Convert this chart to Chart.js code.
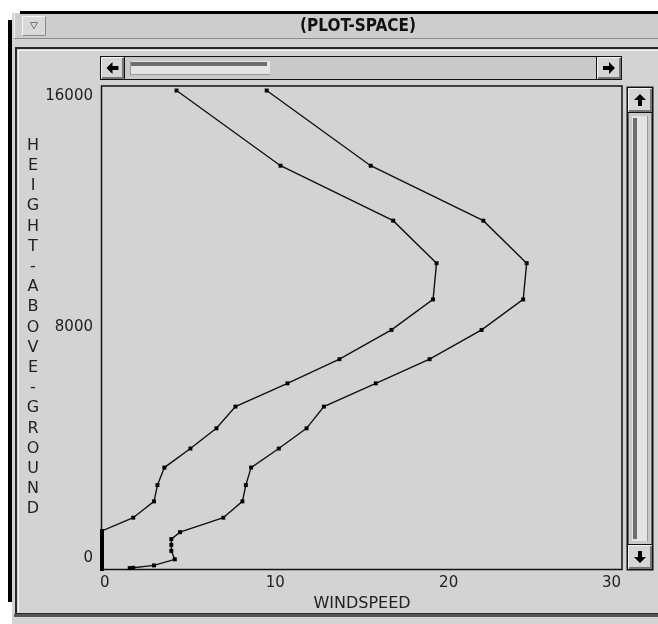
<!DOCTYPE html>
<html>
<head>
<meta charset="utf-8">
<script src="https://cdn.jsdelivr.net/npm/chart.js@4/dist/chart.umd.min.js"></script>
<style>
  html, body { margin: 0; padding: 0; background: #ffffff; overflow: hidden; }
  #wrap { width: 658px; height: 624px; }
</style>
</head>
<body>
<div id="wrap"><canvas id="c" width="658" height="624"></canvas></div>
<script>
// Wind profiles: height above ground (ft) vs wind speed.
const innerHeights = [15850, 13360, 11540, 10130, 8930, 7920, 6950, 6150, 5380, 4660, 3990, 3360, 2780, 2240, 1700, 1260,
                      1180, 1100, 1020, 940, 860, 780, 700, 620, 540, 460, 380, 300, 220, 140, 60, 0];
const innerSpeeds  = [4.3, 10.3, 16.8, 19.3, 19.1, 16.7, 13.7, 10.7, 7.7, 6.6, 5.1, 3.6, 3.2, 3.0, 1.8, 0.0,
                      0.0, 0.0, 0.0, 0.0, 0.0, 0.0, 0.0, 0.0, 0.0, 0.0, 0.0, 0.0, 0.0, 0.0, 0.0, 0.0];

const outerHeights = [15850, 13360, 11540, 10130, 8930, 7920, 6950, 6150, 5380, 4660, 3990, 3360, 2780, 2240, 1700, 1220, 990, 800, 600, 320, 120, 40, 30];
const outerSpeeds  = [9.5, 15.5, 22.0, 24.5, 24.3, 21.9, 18.9, 15.8, 12.8, 11.8, 10.2, 8.6, 8.3, 8.1, 7.0, 4.5, 4.0, 4.0, 4.0, 4.2, 3.0, 1.8, 1.6];

const xTickValues = [0, 10, 20, 30];
const yTickValues = [0, 8000, 16000];

const windowTitle = '(PLOT-SPACE)';
const xAxisTitle = 'WINDSPEED';
const yAxisTitle = 'HEIGHT-ABOVE-GROUND';

function toPoints(xs, ys) {
  return xs.map((x, i) => ({ x: x, y: ys[i] }));
}

const GRAY = '#d3d3d3';
const INK = '#111111';

// Bevelled button with an arrow glyph
function drawButton(ctx, x, y, w, h, dir) {
  ctx.fillStyle = '#d6d6d6';
  ctx.fillRect(x, y, w, h);
  ctx.strokeStyle = '#111';
  ctx.lineWidth = 1;
  ctx.strokeRect(x + 0.5, y + 0.5, w - 1, h - 1);
  ctx.strokeStyle = '#f4f4f4';
  ctx.beginPath();
  ctx.moveTo(x + 1.5, y + h - 2); ctx.lineTo(x + 1.5, y + 1.5); ctx.lineTo(x + w - 2, y + 1.5);
  ctx.stroke();
  ctx.strokeStyle = '#777';
  ctx.lineWidth = 2;
  ctx.beginPath();
  ctx.moveTo(x + 2, y + h - 2); ctx.lineTo(x + w - 2, y + h - 2); ctx.lineTo(x + w - 2, y + 2);
  ctx.stroke();

  const cx = x + w / 2, cy = y + h / 2;
  ctx.save();
  ctx.translate(cx, cy);
  const rot = { right: 0, down: Math.PI / 2, left: Math.PI, up: -Math.PI / 2 }[dir];
  ctx.rotate(rot);
  ctx.fillStyle = '#000';
  ctx.beginPath();
  ctx.moveTo(6, 0);
  ctx.lineTo(0, -6);
  ctx.lineTo(0, -2);
  ctx.lineTo(-6, -2);
  ctx.lineTo(-6, 2);
  ctx.lineTo(0, 2);
  ctx.lineTo(0, 6);
  ctx.closePath();
  ctx.fill();
  ctx.restore();
}

const windowChrome = {
  id: 'windowChrome',
  beforeDraw(chart) {
    const ctx = chart.ctx;
    const W = chart.width, H = chart.height;
    const area = chart.chartArea;
    ctx.save();
    ctx.fillStyle = '#ffffff';
    ctx.fillRect(0, 0, W, H);
    // window body
    ctx.fillStyle = GRAY;
    ctx.fillRect(12, 13, W - 12, H - 13);
    // black top and left edges
    ctx.fillStyle = '#000';
    ctx.fillRect(20, 11, W - 20, 3);
    ctx.fillRect(8, 20, 4, 582);
    // title bar
    ctx.fillStyle = '#cdcdcd';
    ctx.fillRect(14, 14, W - 14, 24);
    ctx.fillStyle = '#8a8a8a';
    ctx.fillRect(14, 38, W - 14, 1);
    ctx.fillStyle = '#f0f0f0';
    ctx.fillRect(14, 14, 1, 24);
    // menu button
    ctx.fillStyle = '#d9d9d9';
    ctx.fillRect(22, 16, 24, 20);
    ctx.strokeStyle = '#f5f5f5';
    ctx.lineWidth = 1;
    ctx.strokeRect(22.5, 16.5, 23, 19);
    ctx.strokeStyle = '#888';
    ctx.beginPath();
    ctx.moveTo(22.5, 35.5); ctx.lineTo(45.5, 35.5); ctx.lineTo(45.5, 16.5);
    ctx.stroke();
    ctx.strokeStyle = '#777';
    ctx.beginPath();
    ctx.moveTo(30.5, 22.5); ctx.lineTo(37.5, 22.5); ctx.lineTo(34, 29); ctx.closePath();
    ctx.stroke();
    // title
    ctx.fillStyle = '#111';
    ctx.font = 'bold 17px "DejaVu Sans Condensed", "DejaVu Sans", sans-serif';
    ctx.textAlign = 'center';
    ctx.textBaseline = 'middle';
    ctx.fillText(windowTitle, 358, 27);

    // panel frame
    ctx.strokeStyle = '#2a2a2a';
    ctx.lineWidth = 2;
    ctx.strokeRect(16, 48, W + 10, 566);
    ctx.strokeStyle = '#f2f2f2';
    ctx.lineWidth = 1;
    ctx.beginPath();
    ctx.moveTo(18.5, 612); ctx.lineTo(18.5, 50.5); ctx.lineTo(W, 50.5);
    ctx.stroke();
    ctx.fillStyle = '#555';
    ctx.fillRect(14, 614, W - 14, 3);

    // horizontal scrollbar
    const hx0 = area.left - 2, hx1 = area.right, hy0 = 56, hy1 = 80;
    ctx.fillStyle = '#c9c9c9';
    ctx.fillRect(hx0, hy0, hx1 - hx0, hy1 - hy0);
    ctx.strokeStyle = '#111';
    ctx.lineWidth = 1;
    ctx.strokeRect(hx0 + 0.5, hy0 + 0.5, hx1 - hx0 - 1, hy1 - hy0 - 1);
    drawButton(ctx, hx0, hy0, 25, hy1 - hy0, 'left');
    drawButton(ctx, hx1 - 26, hy0, 26, hy1 - hy0, 'right');
    // thumb
    ctx.fillStyle = '#e4e4e4';
    ctx.fillRect(130, 61, 140, 14);
    ctx.fillStyle = '#6e6e6e';
    ctx.fillRect(131, 62, 136, 4);
    ctx.fillStyle = '#999';
    ctx.fillRect(130, 61, 1, 14);
    ctx.fillRect(130, 74, 140, 1);

    // vertical scrollbar
    const vx0 = 627, vx1 = 653, vy0 = area.top + 1, vy1 = area.bottom + 1;
    ctx.fillStyle = '#c9c9c9';
    ctx.fillRect(vx0, vy0, vx1 - vx0, vy1 - vy0);
    ctx.strokeStyle = '#111';
    ctx.strokeRect(vx0 + 0.5, vy0 + 0.5, vx1 - vx0 - 1, vy1 - vy0 - 1);
    drawButton(ctx, vx0, vy0, vx1 - vx0, 26, 'up');
    drawButton(ctx, vx0, vy1 - 26, vx1 - vx0, 26, 'down');
    ctx.fillStyle = '#e4e4e4';
    ctx.fillRect(vx0 + 5, vy0 + 29, 16, vy1 - vy0 - 58);
    ctx.fillStyle = '#6e6e6e';
    ctx.fillRect(vx0 + 6, vy0 + 31, 4, vy1 - vy0 - 62);
    ctx.fillStyle = '#999';
    ctx.fillRect(vx0 + 20, vy0 + 29, 1, vy1 - vy0 - 58);

    // plot area background and frame
    ctx.fillStyle = GRAY;
    ctx.fillRect(area.left, area.top, area.right - area.left, area.bottom - area.top);
    ctx.strokeStyle = INK;
    ctx.lineWidth = 1.5;
    ctx.strokeRect(area.left - 0.5, area.top, area.right - area.left + 0.5, area.bottom - area.top + 0.5);
    ctx.restore();
  },
  afterDraw(chart) {
    const ctx = chart.ctx;
    const area = chart.chartArea;
    const xs = chart.scales.x, ys = chart.scales.y;
    ctx.save();
    ctx.fillStyle = '#222';
    ctx.font = '15px "DejaVu Sans", sans-serif';
    // y tick labels, kept inside the axis span
    ctx.textAlign = 'right';
    ctx.textBaseline = 'middle';
    ys.ticks.forEach(t => {
      let py = ys.getPixelForValue(t.value);
      py = Math.min(Math.max(py, area.top + 10), area.bottom - 11);
      ctx.fillText(String(t.value), area.left - 9, py);
    });
    // x tick labels
    ctx.textAlign = 'center';
    xs.ticks.forEach(t => {
      const label = String(t.value);
      const w = ctx.measureText(label).width;
      let px = xs.getPixelForValue(t.value);
      px = Math.min(Math.max(px, area.left - 2 + w / 2), area.right - 1 - w / 2);
      ctx.fillText(label, px, area.bottom + 14);
    });
    // axis titles
    ctx.font = '16px "DejaVu Sans", sans-serif';
    ctx.fillText(xAxisTitle, (area.left + area.right) / 2, area.bottom + 35);
    const letters = yAxisTitle.split('');
    const step = 20.2;
    const midY = (area.top + area.bottom) / 2;
    const y0 = midY - step * (letters.length - 1) / 2;
    letters.forEach((ch, i) => {
      ctx.fillText(ch, 33, y0 + i * step);
    });
    ctx.restore();
  }
};

const datasetStyle = {
  showLine: true,
  borderColor: INK,
  borderWidth: 1.4,
  pointStyle: 'rect',
  pointRadius: 2.8,
  pointBackgroundColor: '#000',
  pointBorderWidth: 0,
  pointHoverRadius: 2.8,
  tension: 0,
  clip: false
};

new Chart(document.getElementById('c'), {
  type: 'scatter',
  data: {
    datasets: [
      Object.assign({ label: 'inner', data: toPoints(innerSpeeds, innerHeights) }, datasetStyle),
      Object.assign({ label: 'outer', data: toPoints(outerSpeeds, outerHeights) }, datasetStyle)
    ]
  },
  options: {
    responsive: false,
    animation: false,
    events: [],
    layout: { padding: { left: 102, right: 36, top: 86, bottom: 55 } },
    plugins: { legend: { display: false }, tooltip: { enabled: false } },
    scales: {
      x: {
        type: 'linear', display: false, min: 0, max: 30,
        afterBuildTicks(scale) { scale.ticks = xTickValues.map(v => ({ value: v })); }
      },
      y: {
        type: 'linear', display: false, min: 0, max: 16000,
        afterBuildTicks(scale) { scale.ticks = yTickValues.map(v => ({ value: v })); }
      }
    }
  },
  plugins: [windowChrome]
});
</script>
</body>
</html>
